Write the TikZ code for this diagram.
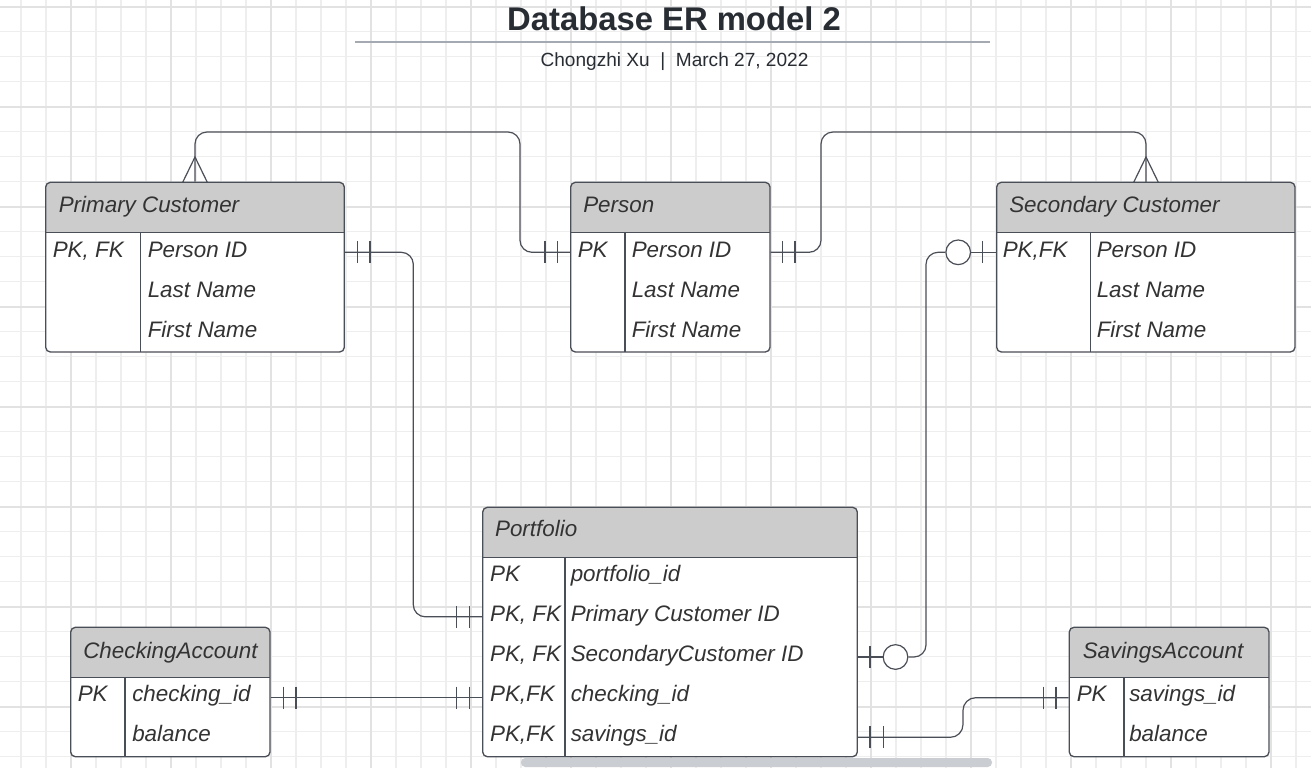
\documentclass[tikz,border=0pt]{standalone}
\usepackage{fontspec}
\setmainfont{Liberation Sans}
\usetikzlibrary{fit,calc}
\definecolor{gridminor}{HTML}{EEEEEE}
\definecolor{gridmajor}{HTML}{E2E2E2}
\definecolor{hdr}{HTML}{CCCCCC}
\definecolor{edgec}{HTML}{4A4E56}
\definecolor{txt}{HTML}{333333}
\definecolor{ttl}{HTML}{282C33}
\definecolor{rulec}{HTML}{A5A9B1}
\definecolor{barc}{HTML}{CACDD2}
\newcommand\erbox[7]{%
  \fill[white, rounded corners=3.5pt] (#2,#3) rectangle (#4,#5);
  \begin{scope}
    \clip[rounded corners=3.5pt] (#2,#3) rectangle (#4,#5);
    \fill[hdr] (#2,#3) rectangle (#4,#6);
  \end{scope}
  \node[fit={(#2,#3)(#4,#5)}, ent] (#1) {};
  \draw[boxline] (#2,#6) -- (#4,#6);
  \draw[boxline] (#7,#6) -- (#7,#5);
}
\newcommand\erbar[2]{\draw[tick] (#1,#2-11) -- (#1,#2+11);}
\newcommand\ercrow[3]{\draw[tick] (#1-12.3,#2) -- (#1,#3) -- (#1+12.3,#2);}
\begin{document}
\begin{tikzpicture}[x=0.75pt,y=-0.75pt,
  ent/.style={draw=edgec, line width=1pt, rounded corners=3.5pt, inner sep=0pt},
  boxline/.style={draw=edgec, line width=1pt},
  rw/.style={anchor=base west, inner sep=0pt, font=\fontsize{16.8}{18}\selectfont\itshape, text=txt},
  conn/.style={draw=edgec, line width=0.9pt, rounded corners=9pt},
  tick/.style={draw=edgec, line width=0.9pt},
  ring/.style={draw=edgec, line width=0.9pt, fill=white}]
\useasboundingbox (0,0) rectangle (1311,768);
\fill[white] (0,0) rectangle (1311,768);
% grid
\foreach \k in {0,...,51} {\draw[gridminor, line width=0.9pt] (21+25*\k,0) -- (21+25*\k,768);}
\foreach \k in {0,...,30} {\draw[gridminor, line width=0.9pt] (0,6.7+25*\k) -- (1311,6.7+25*\k);}
\foreach \k in {0,...,12} {\draw[gridmajor, line width=1.2pt] (71+100*\k,0) -- (71+100*\k,768);}
\foreach \k in {0,...,7} {\draw[gridmajor, line width=1.2pt] (0,6.7+100*\k) -- (1311,6.7+100*\k);}
% title
\node[anchor=base, inner sep=0pt, font=\fontsize{24.6}{28}\selectfont\bfseries, text=ttl] (title) at (674,30) {Database ER model 2};
\draw[rulec, line width=2.2pt] (355,42) -- (990,42);
\node[anchor=base, inner sep=0pt, font=\fontsize{14.3}{16}\selectfont, text=ttl] (subtitle) at (674.5,66.7) {Chongzhi Xu\ \ |\ \ March 27, 2022};
% Primary Customer
\erbox{pc}{45.7}{182.3}{344.3}{352}{232.3}{140.7}
\node[rw] (pcH) at (58.5,212) {Primary Customer};
\node[rw] (pcK1) at (52.5,257) {PK, FK};
\node[rw] (pcA1) at (147.5,257) {Person ID};
\node[rw] (pcA2) at (147.5,297) {Last Name};
\node[rw] (pcA3) at (147.5,337) {First Name};
% Person
\erbox{per}{570.7}{182.3}{770}{352}{232.3}{625}
\node[rw] (perH) at (583,212) {Person};
\node[rw] (perK1) at (577.5,257) {PK};
\node[rw] (perA1) at (631.5,257) {Person ID};
\node[rw] (perA2) at (631.5,297) {Last Name};
\node[rw] (perA3) at (631.5,337) {First Name};
% Secondary Customer
\erbox{sc}{996.7}{182.3}{1295}{352}{232.3}{1090.3}
\node[rw] (scH) at (1009,212) {Secondary Customer};
\node[rw] (scK1) at (1002.5,257) {PK,FK};
\node[rw] (scA1) at (1096.5,257) {Person ID};
\node[rw] (scA2) at (1096.5,297) {Last Name};
\node[rw] (scA3) at (1096.5,337) {First Name};
% Portfolio
\erbox{pf}{482.7}{507.3}{857.3}{756.7}{557.3}{565}
\node[rw] (pfH) at (494.8,536.7) {Portfolio};
\node[rw] (pfK1) at (489.8,581.5) {PK};
\node[rw] (pfK2) at (489.8,621.5) {PK, FK};
\node[rw] (pfK3) at (489.8,661.5) {PK, FK};
\node[rw] (pfK4) at (489.8,701.5) {PK,FK};
\node[rw] (pfK5) at (489.8,741.5) {PK,FK};
\node[rw] (pfA1) at (570.5,581.5) {portfolio\_id};
\node[rw] (pfA2) at (570.5,621.5) {Primary Customer ID};
\node[rw] (pfA3) at (570.5,661.5) {SecondaryCustomer ID};
\node[rw] (pfA4) at (570.5,701.5) {checking\_id};
\node[rw] (pfA5) at (570.5,741.5) {savings\_id};
% CheckingAccount
\erbox{ca}{70.7}{627.3}{270}{756.7}{677.3}{125}
\node[rw] (caH) at (83,658.3) {CheckingAccount};
\node[rw] (caK1) at (77.5,701.7) {PK};
\node[rw] (caA1) at (132,701.7) {checking\_id};
\node[rw] (caA2) at (132,741.7) {balance};
% SavingsAccount
\erbox{sa}{1069.3}{627.3}{1269}{756.7}{677.3}{1124}
\node[rw] (saH) at (1082.5,658.3) {SavingsAccount};
\node[rw] (saK1) at (1076.5,701.7) {PK};
\node[rw] (saA1) at (1129,701.7) {savings\_id};
\node[rw] (saA2) at (1129,741.7) {balance};
% row coordinates
\coordinate (rTop) at (0,252.3);
\coordinate (rPf2) at (0,616.8);
\coordinate (rPf3) at (0,657);
\coordinate (rPf4) at (0,697.7);
\coordinate (rPf5) at (0,737.3);
% connector: Primary Customer -- Person
\draw[conn] (pc.north) -- (195,132) -- (520,132) -- (520,252.3) -- (per.west |- rTop);
\ercrow{195}{182.3}{157}
\erbar{545}{252.3}\erbar{557.3}{252.3}
% connector: Person -- Secondary Customer
\draw[conn] (per.east |- rTop) -- (821,252.3) -- (821,132) -- (1146,132) -- (1146,182.3);
\ercrow{1146}{182.3}{157}
\erbar{782.7}{252.3}\erbar{795}{252.3}
% connector: Primary Customer -- Portfolio
\draw[conn] (pc.east |- rTop) -- (413.3,252.3) -- (413.3,616.8) -- (pf.west |- rPf2);
\erbar{357.7}{252.3}\erbar{370}{252.3}
\erbar{456.7}{616.8}\erbar{469.3}{616.8}
% connector: CheckingAccount -- Portfolio
\draw[conn] (ca.east |- rPf4) -- (pf.west |- rPf4);
\erbar{283.7}{697.7}\erbar{296}{697.7}
\erbar{456.7}{697.7}\erbar{469.3}{697.7}
% connector: Portfolio -- Secondary Customer
\node[circle, ring, minimum size=18.5pt, inner sep=0pt] (o1) at (895.5,657) {};
\node[circle, ring, minimum size=18.5pt, inner sep=0pt] (o2) at (958.2,252.3) {};
\draw[tick] (pf.east |- rPf3) -- (o1.west);
\draw[conn] (o1.east) -- (926,657) -- (926,252.3) -- (o2.west);
\draw[tick] (o2.east) -- (sc.west |- rTop);
\erbar{870}{657}
\erbar{982.7}{252.3}
% connector: Portfolio -- SavingsAccount
\draw[conn, rounded corners=9.5pt] (pf.east |- rPf5) -- (963,737.3) -- (963,697.7) -- (sa.west |- rPf4);
\erbar{870}{737.3}\erbar{883.3}{737.3}
\erbar{1043.3}{697.7}\erbar{1056}{697.7}
% bottom bar
\fill[barc, rounded corners=3.2pt] (521,758) rectangle (992,767);
\end{tikzpicture}
\end{document}
